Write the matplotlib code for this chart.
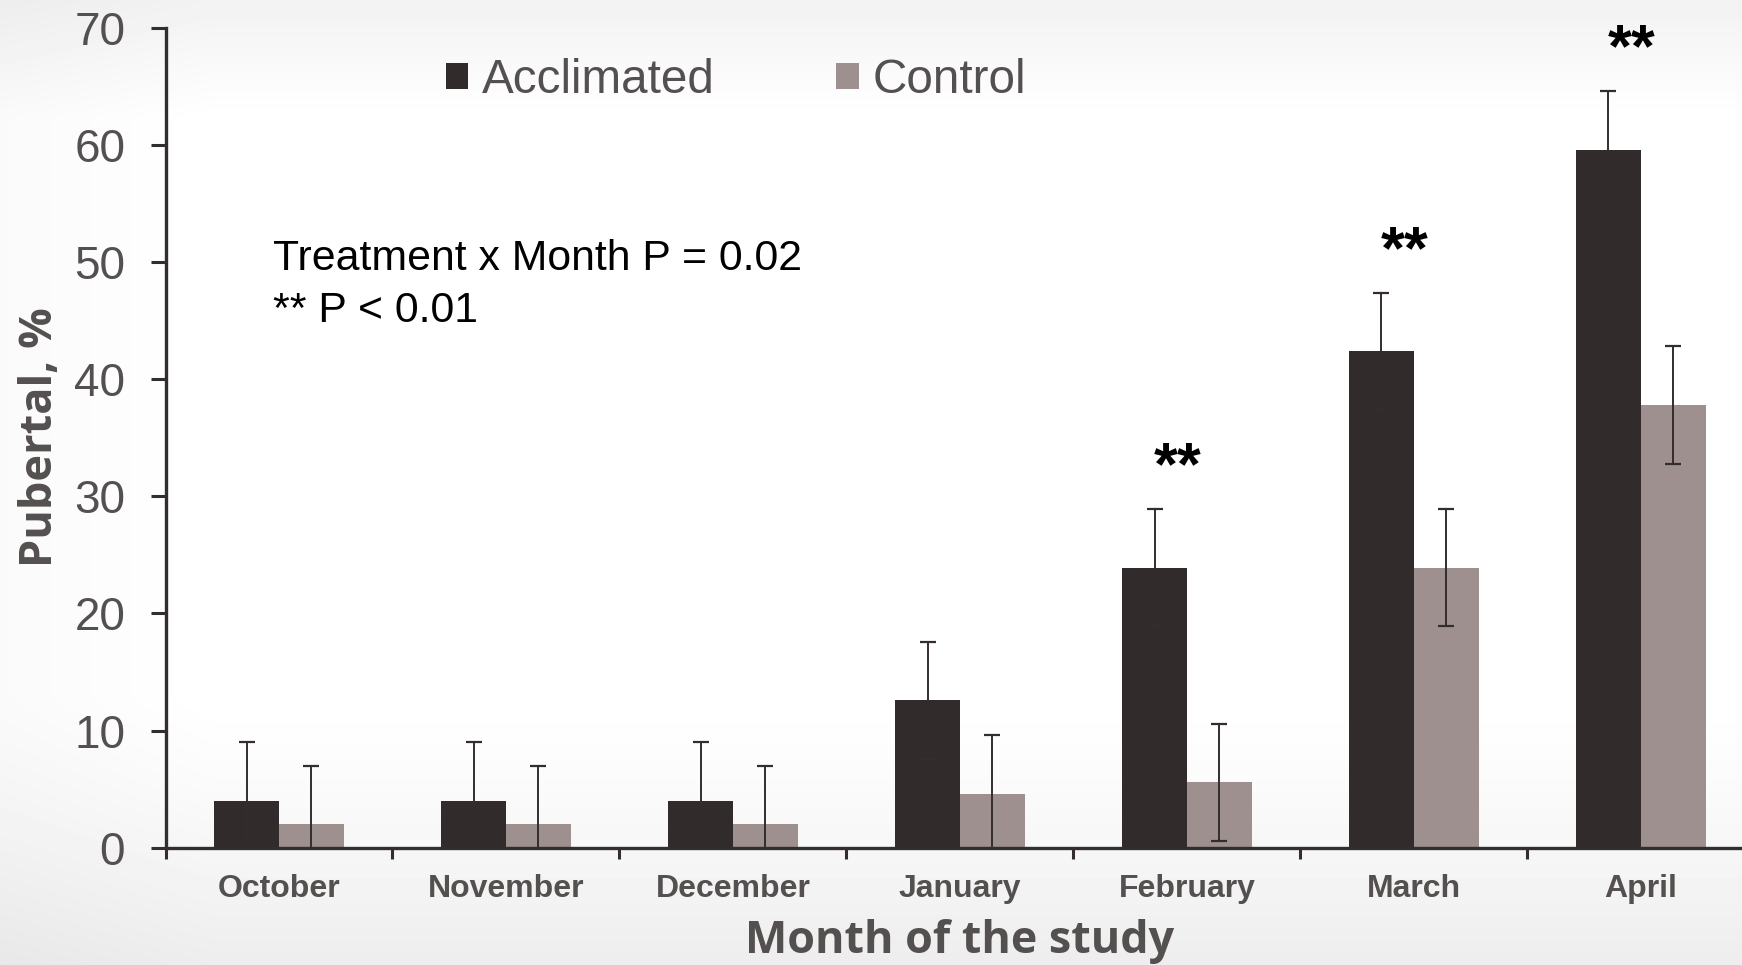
import numpy as np
import matplotlib
matplotlib.use("Agg")
import matplotlib.pyplot as plt
from matplotlib.patches import Patch

# Pubertal percentage per month, acclimated vs control heifers
months = ["October", "November", "December", "January", "February", "March", "April"]
acclimated = [4.0, 4.0, 4.0, 12.6, 23.9, 42.4, 59.6]
control = [2.0, 2.0, 2.0, 4.6, 5.6, 23.9, 37.8]
acclimated_err = [5.0, 5.0, 5.0, 5.0, 5.0, 5.0, 5.0]
control_err = [5.0, 5.0, 5.0, 5.0, 5.0, 5.0, 5.0]
significant = ["February", "March", "April"]
yticks = [0, 10, 20, 30, 40, 50, 60, 70]

DARK = "#312b2b"
LIGHT = "#9e908e"
GREY_TXT = "#555050"
AXIS = "#332d2d"
NARROW = ["Liberation Sans Narrow", "Liberation Sans", "DejaVu Sans"]
WIDE_BOLD = ["Open Sans", "DejaVu Sans"]

W, H = 1742, 965
fig = plt.figure(figsize=(W / 100, H / 100), dpi=100)

# soft grey background, lighter in the middle
bg = fig.add_axes([0, 0, 1, 1], zorder=-10)
yy = np.linspace(0, 1, 200)[:, None]
xx = np.linspace(0, 1, 200)[None, :]
shade = np.ones((200, 200))
shade -= 0.07 * np.clip((yy - 0.72) / 0.28, 0, 1) ** 1.3
shade -= 0.05 * np.clip((0.12 - yy) / 0.12, 0, 1)
shade -= 0.02 * np.clip((0.12 - xx) / 0.12, 0, 1)
bg.imshow(shade, cmap="gray", vmin=0, vmax=1, aspect="auto",
          extent=[0, 1, 0, 1], interpolation="bicubic")
bg.axis("off")

ax_left = 165.5 / W
ax_bottom = 1 - 847.7 / H
ax_top = 1 - 27.8 / H
ax_right = 1754.3 / W
ax = fig.add_axes([ax_left, ax_bottom, ax_right - ax_left, ax_top - ax_bottom])
ax.patch.set_alpha(0)

x = np.arange(len(months))
bw = 0.285
ax.bar(x - bw / 2, acclimated, bw, color=DARK, zorder=2)
ax.bar(x + bw / 2, control, bw, color=LIGHT, zorder=2)
ax.errorbar(x - bw / 2, acclimated, yerr=acclimated_err, fmt="none",
            ecolor=AXIS, elinewidth=1.4, capsize=6, capthick=1.6, zorder=3)
ax.errorbar(x + bw / 2, control, yerr=control_err, fmt="none",
            ecolor=AXIS, elinewidth=1.4, capsize=6, capthick=1.6, zorder=3)

# significance stars above the acclimated error bars
for m in significant:
    i = months.index(m)
    top = acclimated[i] + acclimated_err[i]
    ax.text(i - 0.04, top + 2.1, "**", ha="center", va="baseline",
            fontsize=44, fontweight="bold", color="black",
            family=["Liberation Sans", "DejaVu Sans"], clip_on=False)

ax.set_xlim(-0.5, len(months) - 0.5)
ax.set_ylim(0, 70)
ax.set_yticks(yticks)
ax.set_yticklabels([str(v) for v in yticks], family=NARROW, fontsize=33, color=GREY_TXT)
ax.set_xticks(np.arange(-0.5, len(months), 1.0))
ax.set_xticklabels([])
ax.set_xticks(x, minor=True)
ax.set_xticklabels(months, minor=True, family=["Liberation Sans", "DejaVu Sans"],
                   fontsize=23, fontweight="bold", color=GREY_TXT)
ax.tick_params(axis="x", which="minor", length=0, pad=19)
ax.tick_params(axis="x", which="major", length=8, width=2.2, color=AXIS)
ax.tick_params(axis="y", length=11, width=2.2, color=AXIS, pad=18)

for s in ["top", "right"]:
    ax.spines[s].set_visible(False)
for s in ["left", "bottom"]:
    ax.spines[s].set_linewidth(2.4)
    ax.spines[s].set_color(AXIS)

fig.text(960 / W, 1 - 942 / H, "Month of the study", ha="center", va="center",
         fontsize=32.3, fontweight="bold", color=GREY_TXT, family=WIDE_BOLD)
fig.text(40 / W, 1 - 437 / H, "Pubertal, %", ha="center", va="center", rotation=90,
         fontsize=32.5, fontweight="bold", color=GREY_TXT, family=WIDE_BOLD)

fig.text(273 / W, 1 - 259 / H, "Treatment x Month P = 0.02", ha="left", va="center",
         fontsize=30.8, color="black", family=NARROW)
fig.text(273 / W, 1 - 311 / H, "** P < 0.01", ha="left", va="center",
         fontsize=30.8, color="black", family=NARROW)

handles = [Patch(facecolor=DARK, label="Acclimated"),
           Patch(facecolor=LIGHT, label="Control")]
leg = fig.legend(handles=handles, loc="center left", bbox_to_anchor=(445.5 / W, 1 - 80.5 / H),
                 ncol=2, frameon=False, handlelength=0.48, handleheight=0.48,
                 handletextpad=0.28, columnspacing=2.55, borderpad=0, borderaxespad=0,
                 prop={"family": NARROW, "size": 34.3})
for t in leg.get_texts():
    t.set_color(GREY_TXT)

fig.savefig("out.png", dpi=100)
